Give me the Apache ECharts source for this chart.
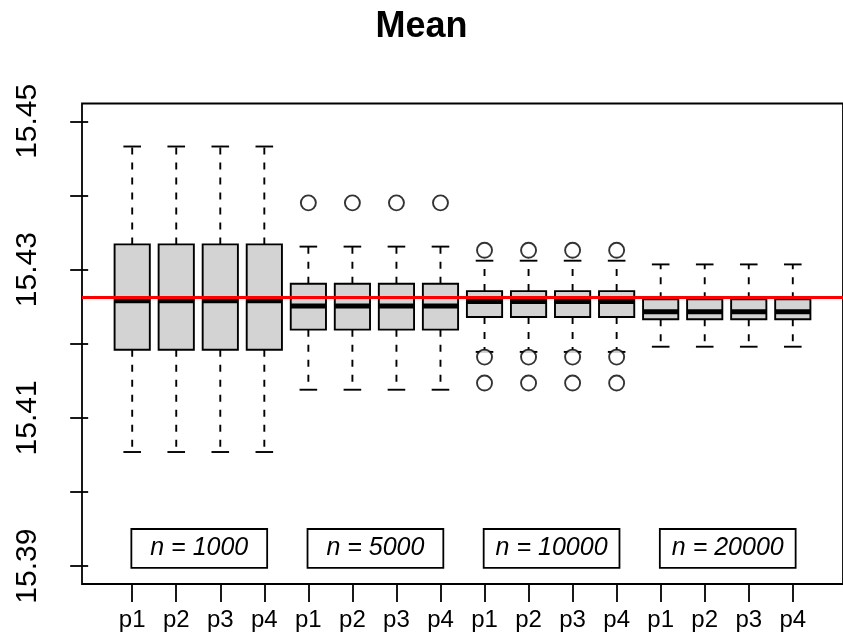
<!DOCTYPE html>
<html>
<head>
<meta charset="utf-8">
<script src="https://cdn.jsdelivr.net/npm/echarts@6/dist/echarts.min.js"></script>
<style>
html,body{margin:0;padding:0;background:#fff;}
#chart{width:843px;height:632px;}
</style>
</head>
<body>
<div id="chart"></div>
<script>
// ---- data ----
const tickLabels = ['p1','p2','p3','p4','p1','p2','p3','p4','p1','p2','p3','p4','p1','p2','p3','p4'];
const groupLabels = ['n = 1000','n = 5000','n = 10000','n = 20000'];
const groupCenters = [2.5, 6.5, 10.5, 14.5];
const groupLabelY = 15.3924;
const lowWhisker = [15.4054,15.4054,15.4054,15.4054, 15.4138,15.4138,15.4138,15.4138, 15.4189,15.4189,15.4189,15.4189, 15.4196,15.4196,15.4196,15.4196];
const q1Values   = [15.4192,15.4192,15.4192,15.4192, 15.4219,15.4219,15.4219,15.4219, 15.4236,15.4236,15.4236,15.4236, 15.4233,15.4233,15.4233,15.4233];
const medians    = [15.4258,15.4258,15.4258,15.4258, 15.4251,15.4251,15.4251,15.4251, 15.4257,15.4257,15.4257,15.4257, 15.4243,15.4243,15.4243,15.4243];
const q3Values   = [15.4334,15.4334,15.4334,15.4334, 15.4281,15.4281,15.4281,15.4281, 15.4271,15.4271,15.4271,15.4271, 15.4260,15.4260,15.4260,15.4260];
const highWhisker= [15.4466,15.4466,15.4466,15.4466, 15.4331,15.4331,15.4331,15.4331, 15.4312,15.4312,15.4312,15.4312, 15.4307,15.4307,15.4307,15.4307];
const outlierX   = [5,6,7,8, 9,10,11,12, 9,10,11,12, 9,10,11,12];
const outlierY   = [15.4390,15.4390,15.4390,15.4390, 15.4326,15.4326,15.4326,15.4326, 15.4182,15.4182,15.4182,15.4182, 15.4147,15.4147,15.4147,15.4147];
const trueMean = 15.4263;
const yTicks = [15.39,15.40,15.41,15.42,15.43,15.44,15.45];
const yLabels = [15.39,15.41,15.43,15.45];

// ---- build ----
const boxData = tickLabels.map((_, i) => [i + 1, lowWhisker[i], q1Values[i], medians[i], q3Values[i], highWhisker[i]]);
const outlierData = outlierX.map((x, i) => [x, outlierY[i]]);
const groupData = groupLabels.map((t, i) => [groupCenters[i], groupLabelY, t]);
const FONT = "'Liberation Sans', Arial, Helvetica, sans-serif";

function renderBox(params, api) {
  const x = api.value(0);
  const pLo = api.coord([x, api.value(1)]);
  const pQ1 = api.coord([x, api.value(2)]);
  const pMed = api.coord([x, api.value(3)]);
  const pQ3 = api.coord([x, api.value(4)]);
  const pHi = api.coord([x, api.value(5)]);
  const w = api.size([0.8, 0])[0];
  const cx = pMed[0];
  const dash = {stroke: '#000', lineWidth: 1.9, lineDash: [7, 8]};
  const solid = {stroke: '#000', lineWidth: 1.9};
  return {
    type: 'group',
    children: [
      {type: 'line', shape: {x1: cx, y1: pQ3[1], x2: cx, y2: pHi[1]}, style: dash},
      {type: 'line', shape: {x1: cx, y1: pQ1[1], x2: cx, y2: pLo[1]}, style: dash},
      {type: 'line', shape: {x1: cx - w / 4, y1: pHi[1], x2: cx + w / 4, y2: pHi[1]}, style: solid},
      {type: 'line', shape: {x1: cx - w / 4, y1: pLo[1], x2: cx + w / 4, y2: pLo[1]}, style: solid},
      {type: 'rect', shape: {x: cx - w / 2, y: pQ3[1], width: w, height: pQ1[1] - pQ3[1]},
        style: {fill: '#d3d3d3', stroke: '#000', lineWidth: 1.9}},
      {type: 'line', shape: {x1: cx - w / 2, y1: pMed[1], x2: cx + w / 2, y2: pMed[1]},
        style: {stroke: '#000', lineWidth: 5}}
    ]
  };
}

function renderGroupLabel(params, api) {
  const p = api.coord([api.value(0), api.value(1)]);
  return {
    type: 'text',
    x: p[0] + 1, y: p[1],
    style: {
      text: groupLabels[params.dataIndex],
      fontFamily: FONT, fontStyle: 'italic', fontSize: 25, fill: '#000',
      width: 130, align: 'center', verticalAlign: 'middle', lineHeight: 27,
      padding: [5, 2, 5, 2], borderColor: '#000', borderWidth: 1.8, backgroundColor: '#fff'
    }
  };
}

const chart = echarts.init(document.getElementById('chart'), null, {renderer: 'canvas'});
chart.setOption({
  animation: false,
  backgroundColor: '#fff',
  title: {
    text: 'Mean', left: 'center', top: 4,
    textStyle: {fontFamily: FONT, fontWeight: 'bold', fontSize: 36, color: '#000'}
  },
  grid: {
    left: 82, right: -10, top: 103.5, bottom: 48,
    show: true, borderColor: '#000', borderWidth: 1.8, backgroundColor: 'transparent'
  },
  xAxis: {
    type: 'value', min: -0.14, max: 17.14,
    axisLine: {show: false},
    splitLine: {show: false},
    axisTick: {show: true, length: 18, lineStyle: {color: '#000', width: 1.8},
      customValues: tickLabels.map((_, i) => i + 1)},
    axisLabel: {
      show: true, margin: 24, fontFamily: FONT, fontSize: 24, color: '#000',
      customValues: tickLabels.map((_, i) => i + 1),
      formatter: v => tickLabels[Math.round(v) - 1] || ''
    }
  },
  yAxis: {
    type: 'value', min: 15.3876, max: 15.4524,
    axisLine: {show: false},
    splitLine: {show: false},
    axisTick: {show: true, length: 18, lineStyle: {color: '#000', width: 1.8}, customValues: yTicks},
    axisLabel: {
      show: true, rotate: 90, margin: 39, fontFamily: FONT, fontSize: 30, color: '#000',
      customValues: yLabels,
      formatter: v => v.toFixed(2)
    }
  },
  series: [
    {
      type: 'custom', renderItem: renderBox, data: boxData, z: 2,
      encode: {x: 0, y: [1, 2, 3, 4, 5]}, clip: false
    },
    {
      type: 'scatter', data: outlierData, symbol: 'circle', symbolSize: 15, z: 3,
      itemStyle: {color: '#fff', borderColor: '#000', borderWidth: 1.9}
    },
    {
      type: 'line', data: [], z: 4,
      markLine: {
        silent: true, symbol: ['none', 'none'], animation: false, precision: 6,
        label: {show: false},
        lineStyle: {color: '#ff0000', width: 3, type: 'solid'},
        data: [{yAxis: trueMean}]
      }
    },
    {
      type: 'custom', renderItem: renderGroupLabel, data: groupData, z: 5, silent: true,
      encode: {x: 0, y: 1}
    }
  ]
});
</script>
</body>
</html>
